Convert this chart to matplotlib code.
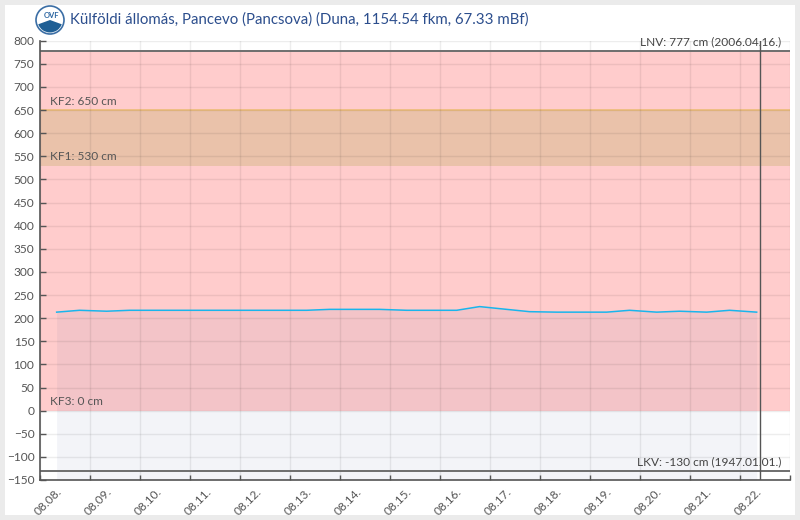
import matplotlib
matplotlib.use('Agg')
import matplotlib.pyplot as plt
import pandas as pd
from matplotlib.patches import Rectangle, Circle, Wedge
from matplotlib.transforms import ScaledTranslation

plt.rcParams['font.family'] = ['Lato', 'DejaVu Sans']

# ---------------- data ----------------
title = "Külföldi állomás, Pancevo (Pancsova) (Duna, 1154.54 fkm, 67.33 mBf)"
times = [
    "2025-08-08 08:00", "2025-08-08 19:00",
    "2025-08-09 08:00", "2025-08-09 19:00",
    "2025-08-10 08:00", "2025-08-10 19:00",
    "2025-08-11 08:00", "2025-08-11 19:00",
    "2025-08-12 08:00", "2025-08-12 19:00",
    "2025-08-13 08:00", "2025-08-13 19:00",
    "2025-08-14 08:00", "2025-08-14 19:00",
    "2025-08-15 08:00", "2025-08-15 19:00",
    "2025-08-16 08:00", "2025-08-16 19:00",
    "2025-08-17 08:00", "2025-08-17 19:00",
    "2025-08-18 08:00", "2025-08-18 19:00",
    "2025-08-19 08:00", "2025-08-19 19:00",
    "2025-08-20 08:00", "2025-08-20 19:00",
    "2025-08-21 08:00", "2025-08-21 19:00",
    "2025-08-22 08:00",
]
levels = [213, 217, 215, 217, 217, 217, 217, 217, 217, 217,
          217, 219, 219, 219, 217, 217, 217, 225, 219, 214,
          213, 213, 213, 217, 213, 215, 213, 217, 213]

day_ticks = pd.date_range("2025-08-08", "2025-08-23", freq="D")
tick_labels = [d.strftime("%m.%d.") for d in day_ticks[:-1]] + [""]
now_time = pd.Timestamp("2025-08-22 09:30")

y_min, y_max, y_step = -150, 800, 50
lnv_value, lnv_label = 777, "LNV: 777 cm (2006.04.16.)"
lkv_value, lkv_label = -130, "LKV: -130 cm (1947.01.01.)"
kf_values = [650, 530, 0]
kf_labels = ["KF2: 650 cm", "KF1: 530 cm", "KF3: 0 cm"]

# ---------------- figure ----------------
W, H, DPI = 800, 520, 100
fig = plt.figure(figsize=(W / DPI, H / DPI), dpi=DPI, facecolor="#ebebeb")
fig.patches.append(Rectangle((5 / W, 5 / H), 790 / W, 510 / H, transform=fig.transFigure,
                             facecolor="white", edgecolor="none", zorder=-10))

ax = fig.add_axes([40 / W, 40 / H, 750 / W, 439.3 / H])
ax.set_facecolor("none")
ax.set_zorder(1)

t = pd.to_datetime(times)
x0, x1 = day_ticks[0], day_ticks[-1]

# bands
ax.axhspan(kf_values[2], lnv_value, color="#ffcccc", lw=0, zorder=0)
ax.axhspan(kf_values[1], kf_values[0], color="#eac2aa", lw=0, zorder=0.5)
ax.axhline(kf_values[0], color="#f2c181", lw=1.3, zorder=0.6)

# series
ax.fill_between(t, levels, y_min, color=(55 / 255, 72 / 255, 138 / 255), alpha=0.06, lw=0, zorder=2)
ax.plot(t, levels, color="#19b5ec", lw=1.1, zorder=3)

# LNV / LKV
ax.axhline(lnv_value, color="#6e6e6e", lw=1.4, zorder=4)
ax.axhline(lkv_value, color="#6e6e6e", lw=1.4, zorder=4)
ax.annotate(lnv_label, xy=(1, lnv_value), xycoords=("axes fraction", "data"),
            xytext=(-6.5, 4), textcoords="offset points", ha="right", va="baseline",
            fontsize=8.6, color="#444444", zorder=5)
ax.annotate(lkv_label, xy=(1, lkv_value), xycoords=("axes fraction", "data"),
            xytext=(-6.5, 4), textcoords="offset points", ha="right", va="baseline",
            fontsize=8.6, color="#444444", zorder=5)
for v, lab in zip(kf_values, kf_labels):
    ax.annotate(lab, xy=(0, v), xycoords=("axes fraction", "data"),
                xytext=(7.2, 4), textcoords="offset points", ha="left", va="baseline",
                fontsize=8.6, color="#555555", zorder=5)

# now line
ax.axvline(now_time, color="#555555", lw=1, zorder=6)

ax.set_xlim(x0, x1)
ax.set_ylim(y_min, y_max)
ax.set_yticks(range(y_min, y_max + 1, y_step))
ax.set_xticks(day_ticks)
ax.set_xticklabels(tick_labels)

for s in ["top", "right"]:
    ax.spines[s].set_visible(False)
for s in ["left", "bottom"]:
    ax.spines[s].set_color("#555555")
    ax.spines[s].set_linewidth(1.2)
    ax.spines[s].set_zorder(7)

ax.tick_params(axis="y", direction="in", length=4.5, width=1, color="#555555",
               labelsize=8.6, labelcolor="#555555", pad=4)
ax.tick_params(axis="x", direction="in", length=3.5, width=1, color="#555555",
               labelsize=8.6, labelcolor="#555555", pad=0)
ax.tick_params(grid_color="#000000", grid_alpha=0.07, grid_linewidth=1)
ax.grid(True)
ax.set_axisbelow(False)
for gl in ax.get_xgridlines() + ax.get_ygridlines():
    gl.set_zorder(1)

offset = ScaledTranslation(0.22, -0.12, fig.dpi_scale_trans)
for lab in ax.get_xticklabels():
    lab.set_rotation(45)
    lab.set_ha("right")
    lab.set_va("baseline")
    lab.set_rotation_mode("anchor")
    lab.set_transform(lab.get_transform() + offset)

# title + logo
fig.text(70 / W, 1 - 20 / H, title, ha="left", va="center", fontsize=10.85, color="#2c4e8d")
cx, cy, r = 50 / W, 1 - 20 / H, 14
logo = Circle((50, H - 20), r, transform=None, facecolor="white", edgecolor="#3b6ea5", lw=1.2, zorder=5)
fig.patches.append(logo)
fig.patches.append(Wedge((50, H - 20), r - 1.5, 200, 340, transform=None,
                         facecolor="#1f5f95", edgecolor="none", zorder=6))
fig.text(cx + 2 / W, cy + 4 / H, "OVF", ha="center", va="center", fontsize=5.5,
         color="#2a64a0", fontweight="bold", zorder=7)

fig.savefig("out.png", dpi=DPI, facecolor=fig.get_facecolor())
